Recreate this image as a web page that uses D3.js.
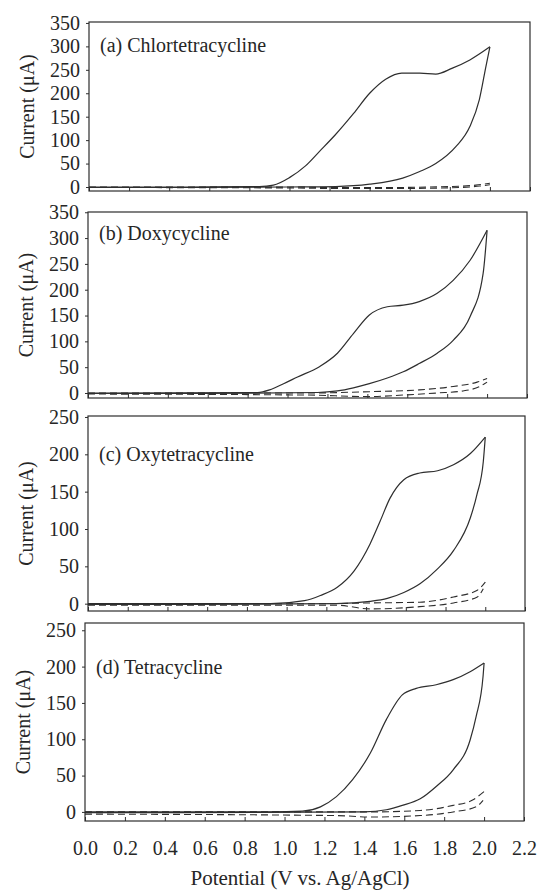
<!DOCTYPE html>
<html>
<head>
<meta charset="utf-8">
<script src="https://cdn.jsdelivr.net/npm/d3@7"></script>
<style>
  body { margin: 0; background: #fff; }
  svg { display: block; }
  text { font-family: "Liberation Serif", "Times New Roman", serif; fill: #262626; }
</style>
</head>
<body>
<div id="chart"></div>
<script>
// chart data
var panelTitles = ['(a) Chlortetracycline', '(b) Doxycycline', '(c) Oxytetracycline', '(d) Tetracycline'];
var titleLevels = [303, 310, 200, 200];          // current value the caption sits at
var yTicksA = [0, 50, 100, 150, 200, 250, 300, 350];
var yTicksC = [0, 50, 100, 150, 200, 250];
var xTicks = [0.0, 0.2, 0.4, 0.6, 0.8, 1.0, 1.2, 1.4, 1.6, 1.8, 2.0, 2.2];
var yLabel = 'Current (\u03bcA)';
var xLabel = 'Potential (V vs. Ag/AgCl)';

// (a) chlortetracycline
var fwdA = [[0,0],[0.5,0],[0.85,1],[0.92,4],[1.0,20],[1.08,45],[1.15,76],[1.23,112],[1.32,157],[1.40,200],[1.48,230],[1.56,243],[1.65,243],[1.73,241],[1.81,253],[1.90,271],[2.0,299]];
var revA = [[2.0,299],[1.98,257],[1.947,186],[1.9,129],[1.83,86],[1.73,50],[1.65,33],[1.565,19],[1.4,6],[1.23,1],[1.0,0],[0.5,-1],[0,-1]];
var bgUpA = [[0,0],[1.0,0],[1.2,-1],[1.5,-1],[1.8,1],[1.93,4],[2.0,8]];
var bgLoA = [[0,-1],[1.0,-2],[1.2,-3],[1.6,-3],[1.85,-1],[1.95,2],[2.0,5]];

// (b) doxycycline
var fwdB = [[0,0],[0.85,1],[0.91,6],[0.98,18],[1.05,31],[1.16,51],[1.25,77],[1.33,115],[1.41,151],[1.5,167],[1.58,170],[1.66,177],[1.75,193],[1.83,218],[1.915,257],[2.0,315]];
var revB = [[2.0,315],[1.98,231],[1.915,148],[1.83,102],[1.75,77],[1.66,57],[1.58,41],[1.5,29],[1.41,18],[1.33,10],[1.25,4],[1.15,1],[0.5,-1],[0,-1]];
var bgUpB = [[0,0],[1.1,0],[1.41,2.5],[1.66,6],[1.83,12.6],[1.95,21],[2.0,28]];
var bgLoB = [[0,-2],[1.1,-4],[1.41,-7],[1.58,-4],[1.75,0],[1.88,4],[1.96,12],[2.0,21]];

// (c) oxytetracycline
var fwdC = [[0,0],[0.92,0],[1.09,4],[1.17,11],[1.255,22],[1.34,44],[1.42,80],[1.47,110],[1.52,141],[1.59,166],[1.67,175],[1.76,178],[1.84,186],[1.925,201],[2.0,223]];
var revC = [[2.0,223],[1.99,190],[1.958,146],[1.925,115],[1.84,71],[1.757,46],[1.673,27],[1.59,15],[1.507,7],[1.42,3],[1.25,0],[0.5,-1],[0,-1]];
var bgUpC = [[0,0],[1.2,0],[1.42,1],[1.67,2],[1.84,9],[1.96,18],[2.0,29]];
var bgLoC = [[0,-2],[1.25,-2],[1.42,-7],[1.67,-4],[1.84,1],[1.96,9],[1.99,20]];

// (d) tetracycline
var fwdD = [[0,0],[0.93,0],[1.09,1],[1.18,7],[1.26,21],[1.34,44],[1.43,81],[1.51,127],[1.59,161],[1.66,170],[1.76,175],[1.845,182],[1.93,193],[2.0,205]];
var revD = [[2.0,205],[1.995,187],[1.96,131],[1.93,99],[1.845,58],[1.76,35],[1.68,18],[1.59,9],[1.51,3],[1.4,0],[0.5,-1],[0,-1]];
var bgUpD = [[0,0],[1.3,0],[1.43,0],[1.68,2],[1.845,9],[1.94,16],[2.0,28]];
var bgLoD = [[0,-3],[1.26,-5],[1.43,-7],[1.68,-5],[1.845,0],[1.96,7],[1.995,16]];

var curves = [
  {fwd: fwdA, rev: revA, bg: [bgUpA, bgLoA], ticks: yTicksA},
  {fwd: fwdB, rev: revB, bg: [bgUpB, bgLoB], ticks: yTicksA},
  {fwd: fwdC, rev: revC, bg: [bgUpC, bgLoC], ticks: yTicksC},
  {fwd: fwdD, rev: revD, bg: [bgUpD, bgLoD], ticks: yTicksC}
];

// panel frames in pixels (scan is slightly skewed, so each one differs a bit)
var frames = [
  {l: 89, r: 530, t: 22,  b: 191, y0: -8.5,  y1: 352},
  {l: 88, r: 527, t: 212, b: 398, y0: -9.7,  y1: 350.5},
  {l: 88, r: 525, t: 416, b: 611, y0: -9.8,  y1: 251.3},
  {l: 85, r: 524, t: 623, b: 821, y0: -12.5, y1: 260}
];

var W = 538, H = 893;
var ink = '#2e2e2e';

var svg = d3.select('#chart').append('svg')
    .attr('width', W)
    .attr('height', H);

// every sweep is a function of potential, so sort by x and use a monotone curve
function byX(s) {
    return s.slice().sort(function(a, b) { return a[0] - b[0]; });
}

frames.forEach(function(f, i) {
    var c = curves[i];
    var x = d3.scaleLinear().domain([0, 2.2]).range([f.l, f.r]);
    var y = d3.scaleLinear().domain([f.y0, f.y1]).range([f.b, f.t]);
    var g = svg.append('g');

    var line = d3.line()
        .x(function(d) { return x(d[0]); })
        .y(function(d) { return y(d[1]); })
        .curve(d3.curveMonotoneX);

    // background scans, dashed
    c.bg.forEach(function(s) {
        g.append('path')
          .attr('d', line(byX(s)))
          .attr('fill', 'none')
          .attr('stroke', ink)
          .attr('stroke-width', 1.1)
          .attr('stroke-dasharray', '7,4');
    });

    // forward and reverse sweep
    [c.fwd, c.rev].forEach(function(s) {
        g.append('path')
          .attr('d', line(byX(s)))
          .attr('fill', 'none')
          .attr('stroke', ink)
          .attr('stroke-width', 1.2)
          .attr('stroke-linejoin', 'round');
    });

    // y axis, short outward ticks
    var ya = g.append('g')
        .attr('transform', 'translate(' + f.l + ',0)')
        .call(d3.axisLeft(y).tickValues(c.ticks).tickSize(3).tickPadding(6).tickFormat(d3.format('d')));
    ya.select('.domain').remove();
    ya.selectAll('line').attr('stroke', ink);
    ya.selectAll('text').attr('font-size', 20).attr('fill', '#262626')
      .style('font-family', '"Liberation Serif", serif');

    // x axis, ticks pointing inward
    var last = i === frames.length - 1;
    var xa = g.append('g')
        .attr('transform', 'translate(0,' + f.b + ')')
        .call(d3.axisBottom(x).tickValues(xTicks).tickSizeInner(-4).tickSizeOuter(0)
              .tickPadding(20).tickFormat(last ? d3.format('.1f') : ''));
    xa.select('.domain').remove();
    xa.selectAll('line').attr('stroke', ink);
    xa.selectAll('text').attr('font-size', 20).attr('fill', '#262626')
      .style('font-family', '"Liberation Serif", serif');

    // frame
    g.append('rect')
      .attr('x', f.l).attr('y', f.t)
      .attr('width', f.r - f.l).attr('height', f.b - f.t)
      .attr('fill', 'none')
      .attr('stroke', ink)
      .attr('stroke-width', 1.2);

    // caption
    g.append('text')
      .attr('x', f.l + 11)
      .attr('y', y(titleLevels[i]))
      .attr('dy', '0.35em')
      .attr('font-size', 20)
      .text(panelTitles[i]);

    // y title
    g.append('text')
      .attr('transform', 'translate(' + (f.l - 62) + ',' + ((f.t + f.b) / 2) + ') rotate(-90)')
      .attr('text-anchor', 'middle')
      .attr('dy', '0.35em')
      .attr('font-size', 20)
      .text(yLabel);
});

svg.append('text')
  .attr('x', 300)
  .attr('y', 885)
  .attr('text-anchor', 'middle')
  .attr('font-size', 21)
  .text(xLabel);
</script>
</body>
</html>
